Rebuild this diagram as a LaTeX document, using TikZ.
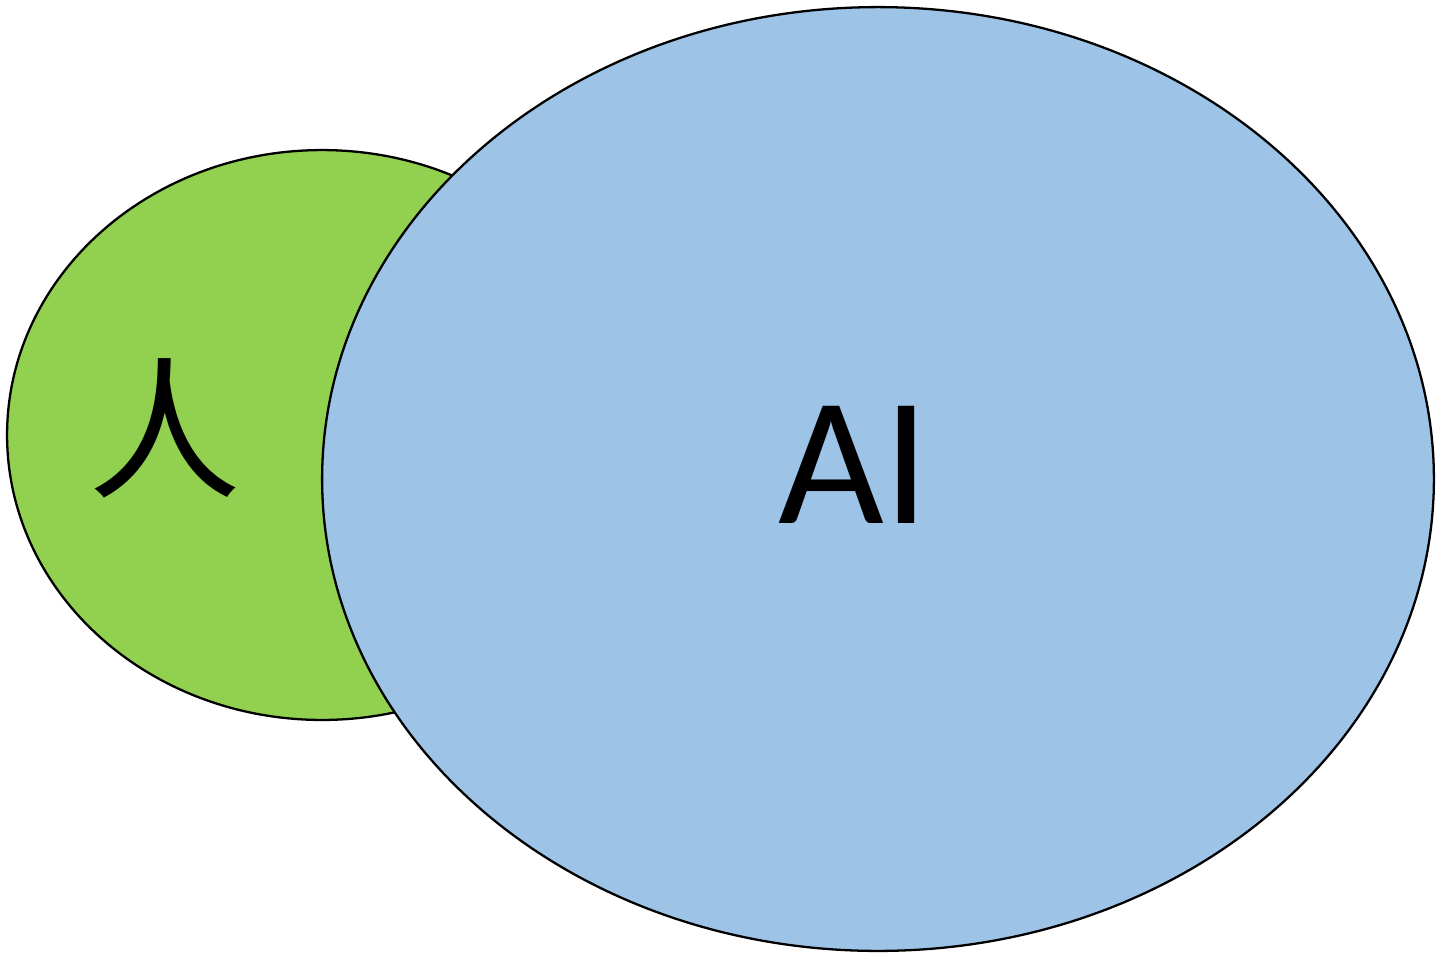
\documentclass[tikz,border=0pt]{standalone}
\usepackage{fontspec}
\setmainfont{Carlito}
\newfontfamily\cjk{Noto Sans CJK SC}
\usetikzlibrary{shapes.geometric}
\definecolor{humangreen}{HTML}{92D050}
\definecolor{aiblue}{HTML}{9DC3E6}
\tikzset{blob/.style={draw, ellipse, inner sep=0pt, line width=1.3pt}}

\begin{document}
\begin{tikzpicture}[x=0.02cm, y=-0.02cm]
       \useasboundingbox (0,0) rectangle (1446,958);
       \node[blob, fill=humangreen, minimum width=12.6cm, minimum height=11.4cm] (human) at (322,435) {};
       \node[blob, fill=aiblue, minimum width=22.24cm, minimum height=18.88cm] (ai) at (878,479) {};
       \node[font=\cjk\fontsize{87}{87}\selectfont, inner sep=0pt] (humanlabel) at (165,428) {人};
       \node[font=\fontsize{104}{104}\selectfont, inner sep=0pt] (ailabel) at (854,465) {AI};
        \end{tikzpicture}
\end{document}
